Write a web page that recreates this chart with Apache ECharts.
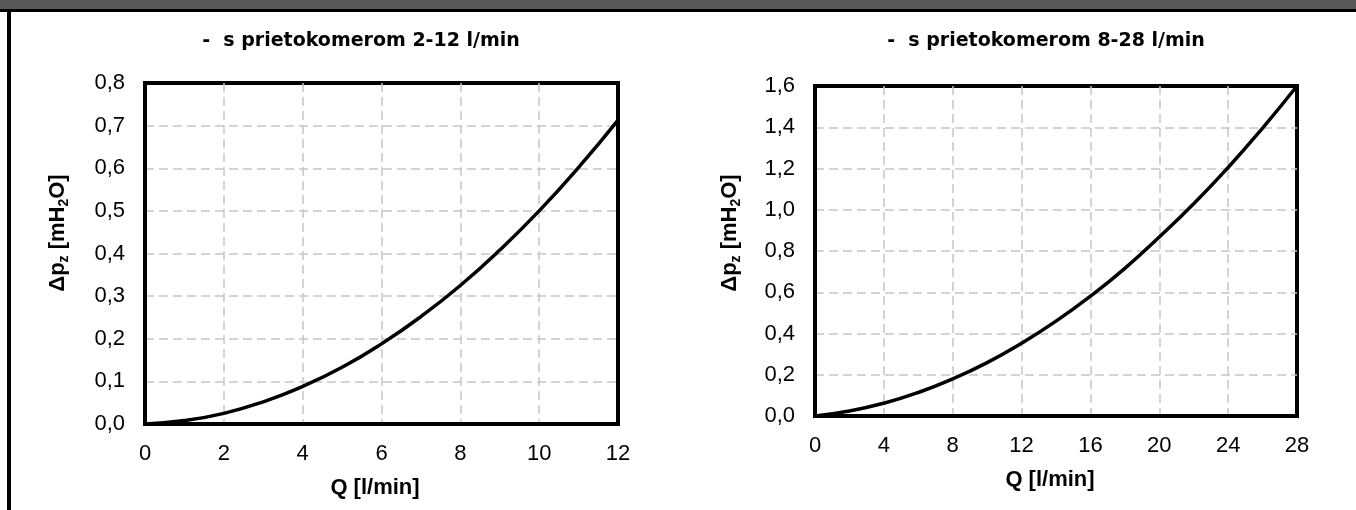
<!DOCTYPE html>
<html>
<head>
<meta charset="utf-8">
<script src="https://cdn.jsdelivr.net/npm/echarts@6/dist/echarts.min.js"></script>
<style>
html,body{margin:0;padding:0;background:#fff;}
#chart{width:1356px;height:510px;}
</style>
</head>
<body>
<div id="chart"></div>
<script>
// Left chart: flowmeter 2-12 l/min
const qLeft = [0, 1, 2, 3, 4, 5, 6, 7, 8, 9, 10, 11, 12];
const dpLeft = [0, 0.008, 0.025, 0.052, 0.088, 0.133, 0.188, 0.252, 0.325, 0.408, 0.5, 0.602, 0.713];
// Right chart: flowmeter 8-28 l/min
const qRight = [0, 2, 4, 6, 8, 10, 12, 14, 16, 18, 20, 22, 24, 26, 28];
const dpRight = [0, 0.024, 0.062, 0.114, 0.18, 0.259, 0.353, 0.46, 0.581, 0.716, 0.868, 1.029, 1.205, 1.396, 1.6];

const titleLeft = '-  s prietokomerom 2-12 l/min';
const titleRight = '-  s prietokomerom 8-28 l/min';
const xName = 'Q [l/min]';

const FONT = '"Liberation Sans", Arial, sans-serif';
const chart = echarts.init(document.getElementById('chart'), null, {renderer: 'canvas'});

function comma(v, d) { return v.toFixed(d).replace('.', ','); }

const split = {show: true, showMinLine: false, showMaxLine: false,
  lineStyle: {color: '#c6c6c6', width: 1.5, type: [9, 5]}};

function xAxis(gi, max, interval) {
  return {
    type: 'value', gridIndex: gi, min: 0, max: max, interval: interval,
    axisLine: {show: true, onZero: false, lineStyle: {color: '#000', width: 4}},
    axisTick: {show: false},
    axisLabel: {color: '#000', fontFamily: FONT, fontSize: 22, margin: 19},
    splitLine: split
  };
}
function yAxis(gi, max, interval) {
  return {
    type: 'value', gridIndex: gi, min: 0, max: max, interval: interval,
    axisLine: {show: true, onZero: false, lineStyle: {color: '#000', width: 4}},
    axisTick: {show: false},
    axisLabel: {color: '#000', fontFamily: FONT, fontSize: 22, margin: 20,
      formatter: v => comma(v, 1)},
    splitLine: split
  };
}

const yRich = {
  b: {fontFamily: FONT, fontSize: 22, fontWeight: 'bold', color: '#000', lineHeight: 26},
  s: {fontFamily: FONT, fontSize: 14, fontWeight: 'bold', color: '#000', lineHeight: 14, verticalAlign: 'bottom'}
};
const yText = '{b|Δp}{s|z}{b| [mH}{s|2}{b|O]}';

chart.setOption({
  animation: false,
  grid: [
    {left: 145, top: 83, width: 473, height: 341, show: true, borderColor: '#000', borderWidth: 4, backgroundColor: 'transparent'},
    {left: 815, top: 86, width: 482, height: 330, show: true, borderColor: '#000', borderWidth: 4, backgroundColor: 'transparent'}
  ],
  xAxis: [xAxis(0, 12, 2), xAxis(1, 28, 4)],
  yAxis: [yAxis(0, 0.8, 0.1), yAxis(1, 1.6, 0.2)],
  series: [
    {type: 'line', xAxisIndex: 0, yAxisIndex: 0, smooth: true, showSymbol: false, symbol: 'none',
     lineStyle: {color: '#000', width: 3.5}, data: qLeft.map((q, i) => [q, dpLeft[i]]), z: 3},
    {type: 'line', xAxisIndex: 1, yAxisIndex: 1, smooth: true, showSymbol: false, symbol: 'none',
     lineStyle: {color: '#000', width: 3.5}, data: qRight.map((q, i) => [q, dpRight[i]]), z: 3}
  ],
  graphic: [
    {type: 'rect', shape: {x: 0, y: 0, width: 1356, height: 9}, style: {fill: '#595959'}, silent: true},
    {type: 'rect', shape: {x: 0, y: 9, width: 1356, height: 3}, style: {fill: '#000'}, silent: true},
    {type: 'rect', shape: {x: 7, y: 9, width: 4, height: 501}, style: {fill: '#000'}, silent: true},
    {type: 'text', x: 361, y: 41, style: {text: titleLeft, fontFamily: '"DejaVu Sans", sans-serif', fontWeight: 'bold', fontSize: 19, fill: '#000', align: 'center', verticalAlign: 'middle'}},
    {type: 'text', x: 1046, y: 41, style: {text: titleRight, fontFamily: '"DejaVu Sans", sans-serif', fontWeight: 'bold', fontSize: 19, fill: '#000', align: 'center', verticalAlign: 'middle'}},
    {type: 'text', x: 375, y: 488, style: {text: xName, fontFamily: FONT, fontWeight: 'bold', fontSize: 22, fill: '#000', align: 'center', verticalAlign: 'middle'}},
    {type: 'text', x: 1050, y: 480, style: {text: xName, fontFamily: FONT, fontWeight: 'bold', fontSize: 22, fill: '#000', align: 'center', verticalAlign: 'middle'}},
    {type: 'text', x: 58, y: 233, rotation: Math.PI / 2, style: {text: yText, rich: yRich, align: 'center', verticalAlign: 'middle'}},
    {type: 'text', x: 730, y: 233, rotation: Math.PI / 2, style: {text: yText, rich: yRich, align: 'center', verticalAlign: 'middle'}}
  ]
});
</script>
</body>
</html>
